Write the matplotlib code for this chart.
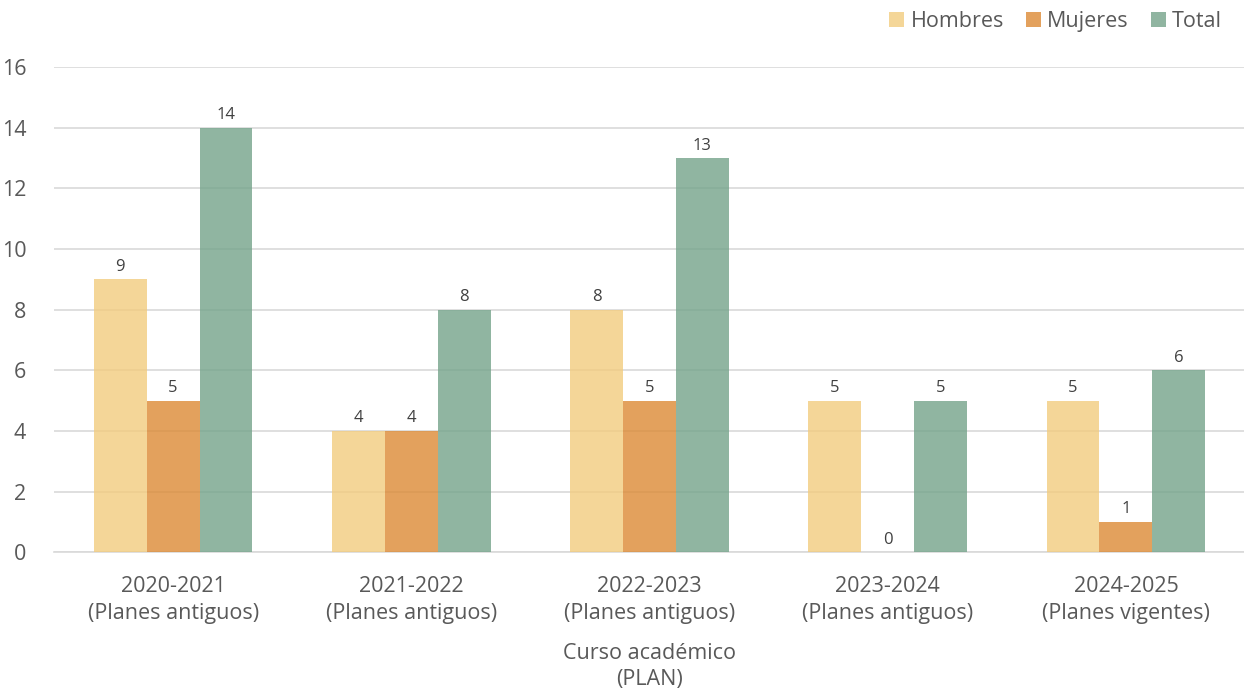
import matplotlib.pyplot as plt
import numpy as np

plt.rcParams['font.family'] = ['Open Sans', 'DejaVu Sans']

# Data
cursos = ['2020-2021\n(Planes antiguos)', '2021-2022\n(Planes antiguos)',
          '2022-2023\n(Planes antiguos)', '2023-2024\n(Planes antiguos)',
          '2024-2025\n(Planes vigentes)']
hombres = [9, 4, 8, 5, 5]
mujeres = [5, 4, 5, 0, 1]
total = [14, 8, 13, 5, 6]

series = [('Hombres', hombres, '#F2CC7E'),
          ('Mujeres', mujeres, '#DC8A35'),
          ('Total', total, '#74A38A')]

text_color = '#595959'

fig = plt.figure(figsize=(12.44, 7), dpi=100)
ax = fig.add_axes([0.0434, 0.211, 0.9574, 0.693])

x = np.arange(len(cursos))
width = 0.222
for i, (name, vals, color) in enumerate(series):
    bars = ax.bar(x + (i - 1) * width, vals, width, color=color, alpha=0.8,
                  label=name, zorder=3)
    for b, v in zip(bars, vals):
        ax.text(b.get_x() + b.get_width() / 2, v + 0.15, str(v),
                ha='center', va='bottom', fontsize=12, color='#404040')

ax.set_xlim(-0.5, len(cursos) - 0.5)
ax.set_ylim(0, 16)
ax.set_yticks(range(0, 17, 2))
ax.yaxis.grid(True, color='#D9D9D9', linewidth=1.2, zorder=0)
ax.set_axisbelow(True)
for s in ['top', 'right', 'left']:
    ax.spines[s].set_visible(False)
ax.spines['bottom'].set_color('#D9D9D9')
ax.spines['bottom'].set_linewidth(1.2)
ax.tick_params(length=0, colors=text_color, labelsize=15.5)
ax.tick_params(axis='y', pad=20)
ax.tick_params(axis='x', pad=17)
ax.set_xticks(x)
ax.set_xticklabels(cursos, linespacing=1.35)
ax.set_xlabel('Curso académico\n(PLAN)', color=text_color, fontsize=15.5,
              labelpad=14, linespacing=1.3)

leg = ax.legend(loc='upper right', bbox_to_anchor=(0.997, 1.155), ncol=3,
                frameon=False, fontsize=15.5, handlelength=0.7,
                handleheight=0.7, handletextpad=0.3, columnspacing=1.0)
for t in leg.get_texts():
    t.set_color(text_color)

plt.savefig('out.png', dpi=100)
